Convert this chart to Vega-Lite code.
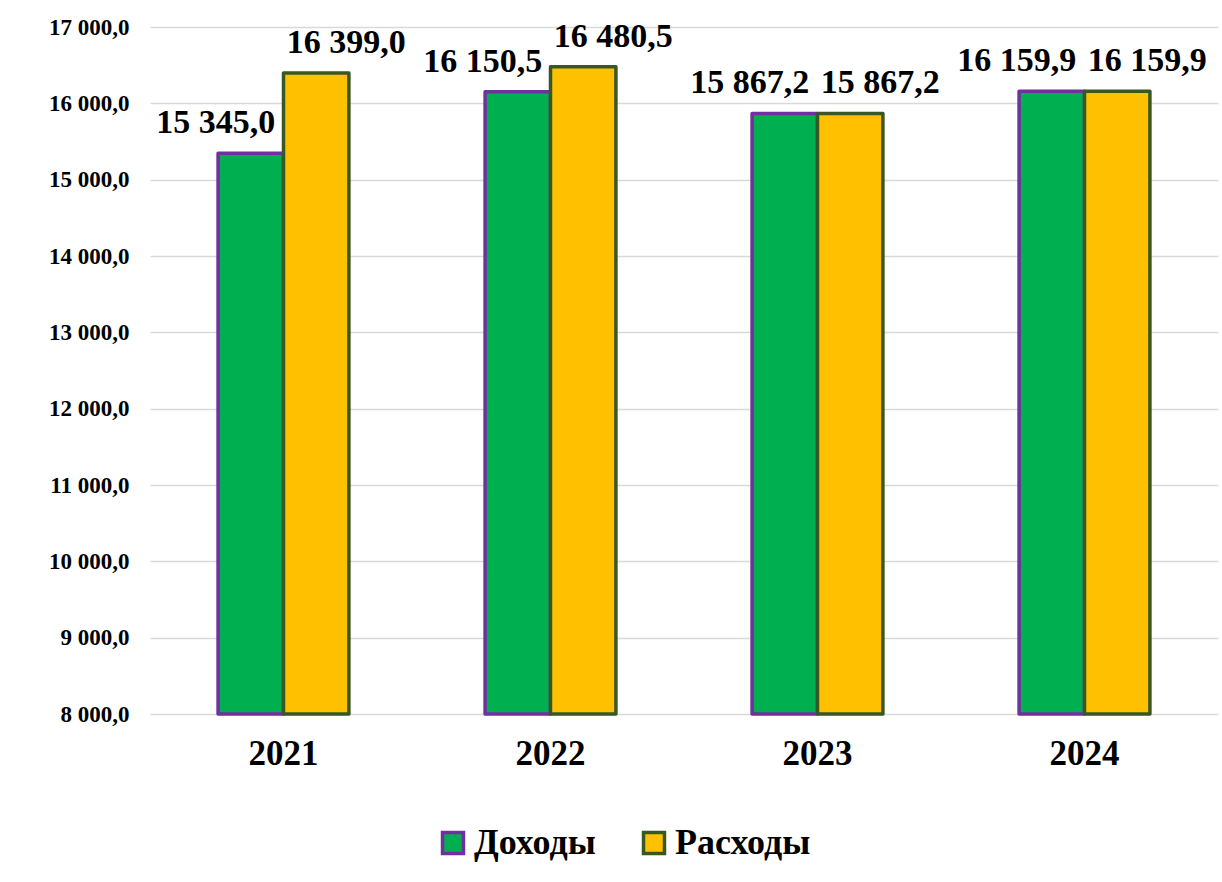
{
  "$schema": "https://vega.github.io/schema/vega-lite/v6.json",
  "autosize": "none",
  "width": 1068,
  "height": 687,
  "padding": {"left": 150, "top": 27, "right": 4, "bottom": 168},
  "background": "white",
  "config": {
    "locale": {"number": {"decimal": ",", "thousands": " ", "grouping": [3], "currency": ["", ""]}},
    "view": {"stroke": null},
    "font": "Liberation Serif"
  },
  "data": {
    "values": [
      {"year": "2021", "series": "Доходы", "value": 15345.0},
      {"year": "2021", "series": "Расходы", "value": 16399.0},
      {"year": "2022", "series": "Доходы", "value": 16150.5},
      {"year": "2022", "series": "Расходы", "value": 16480.5},
      {"year": "2023", "series": "Доходы", "value": 15867.2},
      {"year": "2023", "series": "Расходы", "value": 15867.2},
      {"year": "2024", "series": "Доходы", "value": 16159.9},
      {"year": "2024", "series": "Расходы", "value": 16159.9}
    ]
  },
  "encoding": {
    "x": {
      "field": "year", "type": "nominal",
      "scale": {"paddingInner": 0.51, "paddingOuter": 0.255},
      "axis": {"title": null, "labelAngle": 0, "labelFont": "Liberation Serif", "labelFontWeight": "bold", "labelFontSize": 35, "labelColor": "black", "labelPadding": 22, "ticks": false, "tickSize": 0, "domain": false, "grid": false}
    },
    "xOffset": {"field": "series", "type": "nominal", "scale": {"paddingInner": 0, "paddingOuter": 0}},
    "y": {
      "field": "value", "type": "quantitative",
      "scale": {"domain": [8000, 17000], "zero": false, "nice": false},
      "axis": {"title": null, "values": [8000, 9000, 10000, 11000, 12000, 13000, 14000, 15000, 16000, 17000], "format": ",.1f", "labelOverlap": false, "labelFont": "Liberation Serif", "labelFontWeight": "bold", "labelFontSize": 23, "labelColor": "black", "labelPadding": 21, "ticks": false, "tickSize": 0, "domain": false, "grid": true, "gridColor": "#D9D9D9", "gridWidth": 1.5}
    }
  },
  "layer": [
    {
      "mark": {"type": "bar", "strokeWidth": 3.5, "strokeJoin": "round"},
      "encoding": {
        "y2": {"datum": 8000},
        "fill": {"field": "series", "type": "nominal", "scale": {"domain": ["Доходы", "Расходы"], "range": ["#00B050", "#FFC000"]},
          "legend": {"title": null, "orient": "none", "legendX": 285, "legendY": 798, "direction": "horizontal", "symbolType": "square", "symbolSize": 440, "symbolStrokeWidth": 3.5, "labelFont": "Liberation Serif", "labelFontWeight": "bold", "labelFontSize": 36, "labelColor": "black", "labelOffset": 3, "columnPadding": 40, "labelLimit": 400}},
        "stroke": {"field": "series", "type": "nominal", "scale": {"domain": ["Доходы", "Расходы"], "range": ["#7030A0", "#385723"]}, "legend": {"title": null}}
      }
    },
    {
      "transform": [{"filter": "datum.series === 'Доходы'"}],
      "mark": {"type": "text", "font": "Liberation Serif", "fontWeight": "bold", "fontSize": 34, "color": "black", "baseline": "alphabetic", "align": "center", "dx": -35, "dy": -20},
      "encoding": {"text": {"field": "value", "type": "quantitative", "format": ",.1f"}}
    },
    {
      "transform": [{"filter": "datum.series === 'Расходы'"}],
      "mark": {"type": "text", "font": "Liberation Serif", "fontWeight": "bold", "fontSize": 34, "color": "black", "baseline": "alphabetic", "align": "center", "dx": 30, "dy": -20},
      "encoding": {"text": {"field": "value", "type": "quantitative", "format": ",.1f"}}
    }
  ]
}
